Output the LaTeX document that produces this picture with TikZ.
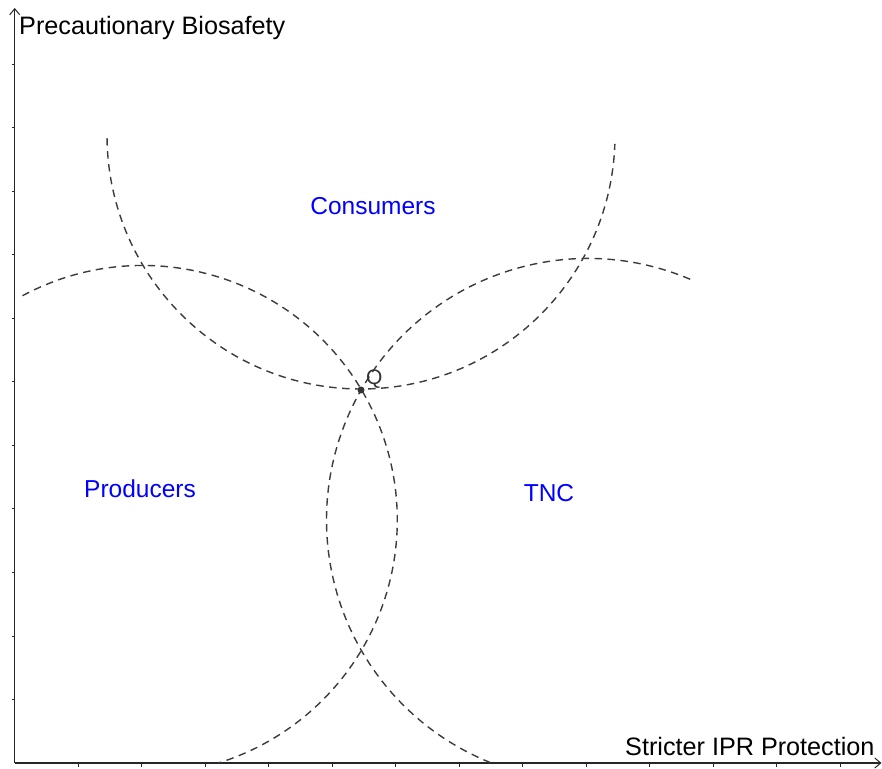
\documentclass[tikz,border=0pt]{standalone}
\usepackage{fontspec}
\setmainfont{Liberation Sans}
\usetikzlibrary{arrows.meta}
\definecolor{curvegray}{RGB}{60,60,60}
\definecolor{labelblue}{RGB}{0,0,255}
\definecolor{pointgray}{RGB}{51,51,51}
\begin{document}
\begin{tikzpicture}[x=1pt,y=1pt,
  axis/.style={line width=1.2pt, draw=black!85, -{Straight Barb[length=6pt,width=10pt,line width=1pt]}},
  tickmark/.style={line width=1pt, draw=black!85},
  regionarc/.style={line width=1.4pt, draw=curvegray, dash pattern=on 7.5pt off 5.5pt},
  grouplabel/.style={text=labelblue, font=\fontsize{24.5}{28}\selectfont, inner sep=0pt, anchor=base},
  axislabel/.style={text=black, font=\fontsize{25.2}{29}\selectfont, inner sep=0pt, anchor=base west},
  ptlabel/.style={text=pointgray, font=\fontsize{21}{25}\selectfont, inner sep=0pt, anchor=base west},
]
\useasboundingbox (0,0) rectangle (882,768);
% axes
\coordinate (O) at (14.7,5);
\coordinate (Xend) at (881.5,5);
\coordinate (Yend) at (14.7,760);
\draw[axis] (O) -- (Xend);
\draw[axis] (O) -- (Yend);
\foreach \k in {1,...,13} \draw[tickmark] ({14.7+63.5*\k},5) -- ++(0,-3.7);
\foreach \k in {1,...,11} \draw[tickmark] (14.7,{5+63.5*\k}) -- ++(-3,0);
% circle centres
\coordinate (T) at (361,633);
\coordinate (L) at (142.8,248);
\coordinate (R) at (588,248);
% dashed arcs
\draw[regionarc] (T) ++(180.7:254) arc[start angle=180.7, end angle=358, radius=254];
\draw[regionarc] (L) ++(118.2:254.5) arc[start angle=118.2, end angle=-72.7, radius=254.5];
\draw[regionarc] (R) ++(67:261.5) arc[start angle=67, end angle=248.3, radius=261.5];
% point Q
\node[circle, fill=pointgray, inner sep=0pt, minimum size=7pt] (q) at (361,378) {};
\node[ptlabel] (qlabel) at (366,383) {Q};
% labels
\node[grouplabel] (consumers) at (373,553) {Consumers};
\node[grouplabel] (producers) at (140,270) {Producers};
\node[grouplabel] (tnc) at (549,266) {TNC};
\node[axislabel] (ylabel) at (19,733) {Precautionary Biosafety};
\node[axislabel] (xlabel) at (625,13) {Stricter IPR Protection};
\end{tikzpicture}
\end{document}
